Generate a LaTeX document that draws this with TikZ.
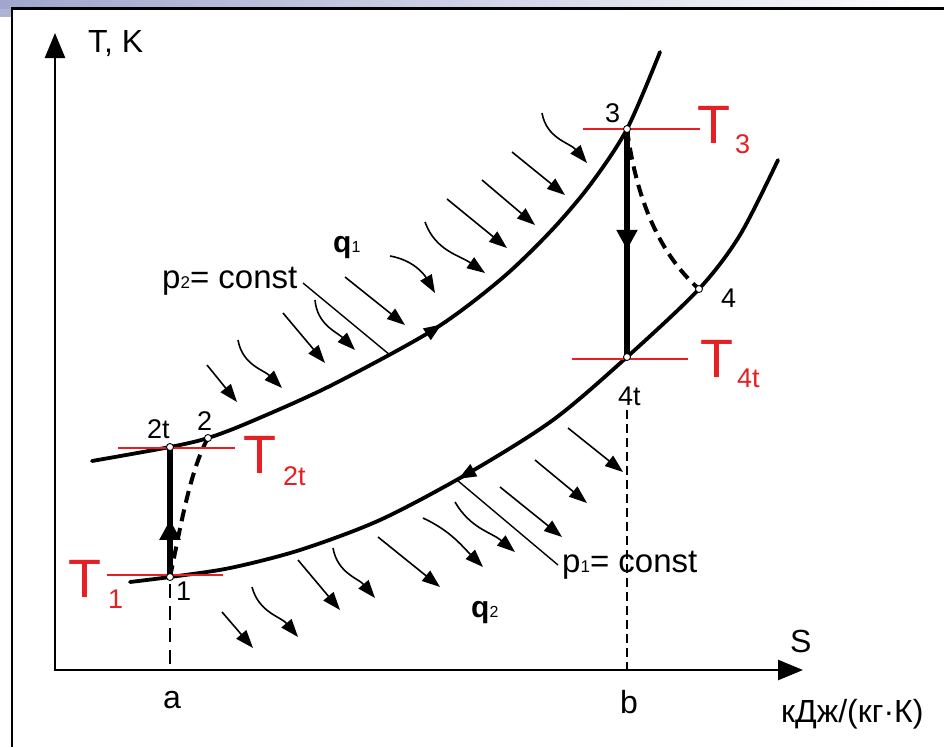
\documentclass[tikz,border=0pt]{standalone}
\usepackage{fontspec}
\setmainfont{Liberation Sans}
\usetikzlibrary{arrows.meta,decorations.markings}
\definecolor{tred}{RGB}{228,32,36}
\definecolor{bandc}{RGB}{160,166,204}
\begin{document}
\begin{tikzpicture}[x=1pt,y=-1pt,
  lab/.style={inner sep=0pt,anchor=base west,font=\fontsize{27}{32}\selectfont},
  biglab/.style={inner sep=0pt,anchor=base west,font=\fontsize{32}{38}\selectfont},
  constlab/.style={inner sep=0pt,anchor=base west,font=\fontsize{33}{38}\selectfont},
  qlab/.style={inner sep=0pt,anchor=base west,font=\fontsize{30}{34}\selectfont},
  redT/.style={inner sep=0pt,anchor=base west,text=tred,font=\fontsize{54}{60}\selectfont},
  redsub/.style={inner sep=0pt,anchor=base west,text=tred,font=\fontsize{27}{32}\selectfont},
  isobar/.style={line width=3.8pt,line cap=round},
  proc/.style={line width=6pt},
  procdash/.style={line width=4pt,dash pattern=on 12pt off 7pt},
  heat/.style={line width=1.6pt,-{Triangle[length=18pt,width=13pt]}},
  leader/.style={line width=1.4pt},
  tline/.style={tred,line width=1.5pt},
  statept/.style={circle,draw,fill=white,line width=0.9pt,inner sep=0pt,minimum size=7pt},
  axisline/.style={line width=2.5pt,line join=miter,{Triangle[length=25pt,width=20pt]}-{Triangle[length=25pt,width=20pt]}},
]
\useasboundingbox (0,0) rectangle (944,747);
% frame
\shade[left color=bandc,right color=white] (0,0) rectangle (944,8.5);
\fill[bandc!85] (0,8.5) rectangle (11,17);
\draw[line width=2.2pt] (944,8.5) -- (12,8.5) -- (12,747);

% coordinates
\coordinate (Ytop) at (55,33);
\coordinate (O) at (55,670);
\coordinate (Xend) at (803,670);
\coordinate (p1) at (170,577);
\coordinate (p2t) at (170,447);
\coordinate (p2) at (208,438);
\coordinate (p3) at (627,129);
\coordinate (p4t) at (627,357);
\coordinate (p4) at (699,289);
\coordinate (aax) at (170,670);
\coordinate (bax) at (627,670);
\coordinate (bstart) at (627,410);

% axes
\draw[axisline] (Ytop) -- (O) -- (Xend);

% dashed verticals
\draw[line width=2.4pt,dash pattern=on 14pt off 8pt] (170,584) -- (aax);
\draw[line width=1.3pt,dash pattern=on 9pt off 5pt] (bstart) -- (bax);

% isobars
\draw[isobar,postaction={decorate},decoration={markings,mark=at position 0.516 with {\arrow{Triangle[length=18pt,width=13pt]}}}]
  plot[smooth] coordinates {(92,461) (170,447) (208,438) (250,422) (330,386) (433,330) (500,280) (550,232) (590,185) (627,129) (660,52)};
\draw[isobar,postaction={decorate},decoration={markings,mark=at position 0.43 with {\arrowreversed{Triangle[length=18pt,width=13pt]}}}]
  plot[smooth] coordinates {(130,582) (170,577) (230,568) (300,550) (380,520) (467,474) (553,420) (627,357) (699,289) (740,235) (778,160)};

% real processes (dashed)
\draw[procdash] (p1) .. controls (180,530) and (190,470) .. (p2);
\draw[procdash] (p3) .. controls (635,190) and (655,250) .. (p4);

% ideal processes
\draw[proc,postaction={decorate},decoration={markings,mark=at position 0.44 with {\arrow{Triangle[length=20pt,width=20pt]}}}] (p1) -- (p2t);
\draw[proc,postaction={decorate},decoration={markings,mark=at position 0.53 with {\arrow{Triangle[length=20pt,width=20pt]}}}] (p3) -- (p4t);

% leaders
\draw[leader] (303,283) -- (390,355);
\draw[leader] (457,480) -- (558,565);

% heat q1
\draw[heat] (207,365) -- (237,402);
\draw[heat] (238,340) to[out=-80,in=135] (282,388);
\draw[heat] (283,313) -- (325,363);
\draw[heat] (315,300) to[out=-85,in=135] (355,350);
\draw[heat] (345,277) -- (405,325);
\draw[heat] (390,256) to[out=-10,in=120] (435,293);
\draw[heat] (425,222) to[out=-70,in=145] (485,273);
\draw[heat] (447,199) -- (507,248);
\draw[heat] (482,180) -- (535,225);
\draw[heat] (512,152) -- (565,195);
\draw[heat] (542,113) to[out=-80,in=130] (587,163);
% heat q2
\draw[heat] (222,612) -- (253,648);
\draw[heat] (252,587) to[out=-75,in=130] (298,637);
\draw[heat] (298,560) -- (340,610);
\draw[heat] (333,548) to[out=-80,in=130] (375,598);
\draw[heat] (378,537) -- (440,587);
\draw[heat] (423,518) to[out=-25,in=135] (483,567);
\draw[heat] (455,502) to[out=-60,in=140] (515,552);
\draw[heat] (500,487) -- (562,537);
\draw[heat] (535,460) -- (587,503);
\draw[heat] (568,428) -- (623,472);

% temperature levels
\draw[tline] (107,575) -- (223,575);
\draw[tline] (118,448) -- (235,448);
\draw[tline] (583,129) -- (700,129);
\draw[tline] (572,359) -- (688,359);

% state points
\node[statept] (n1) at (p1) {};
\node[statept] (n2t) at (p2t) {};
\node[statept] (n2) at (p2) {};
\node[statept] (n3) at (p3) {};
\node[statept] (n4t) at (p4t) {};
\node[statept] (n4) at (p4) {};

% labels
\node[biglab] (tk) at (88,52) {T, K};
\node[biglab] (slab) at (790,652) {S};
\node[biglab] (alab) at (163,708) {a};
\node[biglab] (blab) at (620,713) {b};
\node[biglab] (unit) at (781,722) {кДж/(кг·К)};
\node[lab] (l2t) at (147,438) {2t};
\node[lab] (l2) at (197,430) {2};
\node[lab] (l1) at (176,600) {1};
\node[lab] (l3) at (605,122) {3};
\node[lab] (l4) at (721,307) {4};
\node[lab] (l4t) at (618,405) {4t};
\node[qlab] (q1) at (333,252) {\textbf{q}{\fontsize{16}{18}\selectfont 1}};
\node[qlab] (q2) at (471,617) {\textbf{q}{\fontsize{16}{18}\selectfont 2}};
\node[constlab] (c2) at (162,288) {p{\fontsize{17}{19}\selectfont 2}= const};
\node[constlab] (c1) at (562,572) {p{\fontsize{17}{19}\selectfont 1}= const};
\node[redT] (T1) at (68,597) {T};
\node[redsub] (T1s) at (108,608) {1};
\node[redT] (T2) at (243,473) {T};
\node[redsub] (T2s) at (283,485) {2t};
\node[redT] (T3) at (697,143) {T};
\node[redsub] (T3s) at (735,153) {3};
\node[redT] (T4) at (700,377) {T};
\node[redsub] (T4s) at (737,387) {4t};
\end{tikzpicture}
\end{document}
